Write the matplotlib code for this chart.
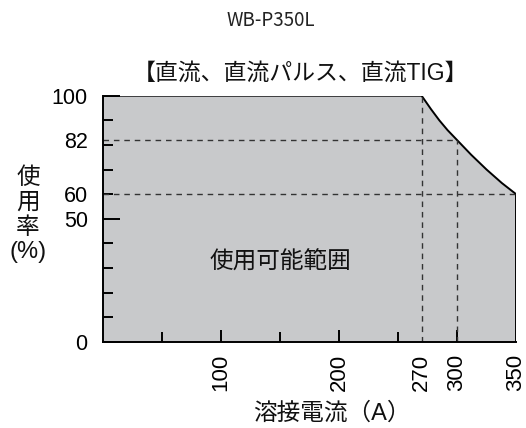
import matplotlib
matplotlib.use('Agg')
import matplotlib.pyplot as plt

plt.rcParams['font.family'] = ['Liberation Sans', 'Noto Sans CJK JP']

# duty cycle outline (current A, duty %)
current = [0, 270, 278, 285, 292, 300, 312, 325, 338, 350, 350]
duty = [100, 100, 94.5, 90, 86, 82, 76, 70, 64.5, 60, 0]

guide_x = [270, 300]
guide_x_top = [100, 82]
guide_y = [82, 60]
guide_y_right = [300, 350]

xtick_labels = [100, 200, 270, 300, 350]
ytick_labels = [0, 50, 60, 82, 100]

fill_color = '#c8c9cb'

fig = plt.figure(figsize=(5.26, 4.28), dpi=100)
ax = fig.add_axes([0.1958, 0.2016, 0.7852, 0.5748])

ax.fill(current + [0], duty + [0], color=fill_color, lw=0)
ax.plot(current, duty, color='black', lw=1.4, solid_joinstyle='miter')

for x, top in zip(guide_x, guide_x_top):
    ax.plot([x, x], [0, top], color='#333333', lw=1, dashes=(4, 3.5))
for y, right in zip(guide_y, guide_y_right):
    ax.plot([0, right], [y, y], color='#333333', lw=1, dashes=(4, 3.5))

ax.set_xlim(0, 350)
ax.set_ylim(0, 100)
ax.set_facecolor('white')
ax.spines['top'].set_visible(False)
ax.spines['right'].set_visible(False)
for s in ['left', 'bottom']:
    ax.spines[s].set_linewidth(1.4)

# tick marks only
ax.set_xticks([100, 200, 300])
ax.set_xticks([50, 150, 250], minor=True)
ax.set_yticks([0, 50, 100])
ax.set_yticks(range(10, 100, 10), minor=True)
ax.tick_params(axis='x', which='major', direction='in', length=9, width=1.4, labelbottom=False)
ax.tick_params(axis='x', which='minor', direction='in', length=7, width=1.4)
ax.tick_params(axis='y', which='major', direction='in', length=12, width=1.4, labelleft=False)
ax.tick_params(axis='y', which='minor', direction='in', length=7, width=1.4)

# labels
secx = ax.secondary_xaxis('bottom')
secx.set_xticks(xtick_labels)
secx.set_xticklabels([str(v) for v in xtick_labels], rotation=90, fontsize=16)
secx.tick_params(length=0, pad=9)
secx.spines['bottom'].set_visible(False)

secy = ax.secondary_yaxis('left')
secy.set_yticks(ytick_labels)
secy.set_yticklabels([str(v) for v in ytick_labels], fontsize=15.5)
secy.tick_params(length=0, pad=11)
secy.spines['left'].set_visible(False)

ax.text(150, 32.5, '使用可能範囲', fontsize=17, ha='center', va='center',
        family='Noto Sans CJK JP', color='#111111')

fig.text(0.515, 0.953, 'WB-P350L', fontsize=13.5, ha='center', va='center',
         family='Noto Sans CJK JP', color='#222222')
fig.text(0.572, 0.828, '【直流、直流パルス、直流TIG】', fontsize=16.5, ha='center', va='center',
         color='#111111')
fig.text(0.053, 0.497, '使\n用\n率\n(%)', fontsize=17, ha='center', va='center',
         linespacing=1.15, color='#111111')
fig.text(0.631, 0.034, '溶接電流（A）', fontsize=17, ha='center', va='center',
         color='#111111')

fig.savefig('out.png', dpi=100)
